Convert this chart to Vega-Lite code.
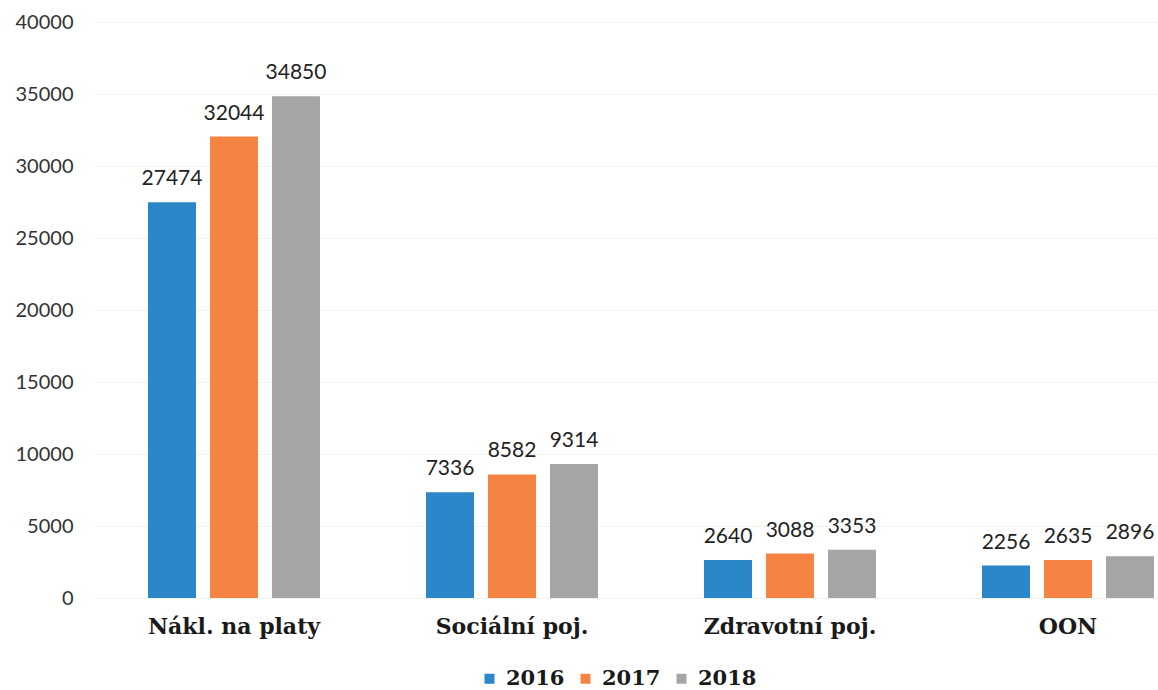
{
  "$schema": "https://vega.github.io/schema/vega-lite/v6.json",
  "autosize": {"type": "none"},
  "padding": {"left": 95, "top": 22, "right": 0, "bottom": 92},
  "width": 1063,
  "height": 576,
  "background": "white",
  "config": {"view": {"stroke": null}},
  "data": {"values": [
    {"cat": "Nákl. na platy", "year": "2016", "value": 27474},
    {"cat": "Nákl. na platy", "year": "2017", "value": 32044},
    {"cat": "Nákl. na platy", "year": "2018", "value": 34850},
    {"cat": "Sociální poj.", "year": "2016", "value": 7336},
    {"cat": "Sociální poj.", "year": "2017", "value": 8582},
    {"cat": "Sociální poj.", "year": "2018", "value": 9314},
    {"cat": "Zdravotní poj.", "year": "2016", "value": 2640},
    {"cat": "Zdravotní poj.", "year": "2017", "value": 3088},
    {"cat": "Zdravotní poj.", "year": "2018", "value": 3353},
    {"cat": "OON", "year": "2016", "value": 2256},
    {"cat": "OON", "year": "2017", "value": 2635},
    {"cat": "OON", "year": "2018", "value": 2896}
  ]},
  "encoding": {
    "x": {
      "field": "cat", "type": "nominal", "sort": null,
      "scale": {"range": [0, 1112], "paddingInner": 0, "paddingOuter": 0},
      "axis": {
        "title": null, "labelAngle": 0, "domain": false, "ticks": false,
        "labelFont": "DejaVu Serif", "labelFontWeight": "bold", "labelFontSize": 22,
        "labelColor": "#1a1a1a", "labelPadding": 18, "labelLimit": 300
      }
    },
    "xOffset": {
      "field": "year", "type": "nominal",
      "scale": {"paddingInner": 0.226, "paddingOuter": 0.855}
    },
    "y": {
      "field": "value", "type": "quantitative",
      "scale": {"domain": [0, 40000], "nice": false},
      "axis": {
        "title": null, "values": [0,5000,10000,15000,20000,25000,30000,35000,40000],
        "format": "d", "labelOverlap": false,
        "domain": false, "ticks": false, "grid": true, "gridColor": "#f2f2f2",
        "labelFont": "Lato", "labelFontSize": 20, "labelColor": "#333333", "labelPadding": 22
      }
    }
  },
  "layer": [
    {
      "mark": {"type": "bar"},
      "encoding": {
        "color": {
          "field": "year", "type": "nominal",
          "scale": {"domain": ["2016", "2017", "2018"], "range": ["#2b87c7", "#f58442", "#a5a5a3"]},
          "legend": {
            "title": null, "orient": "none", "direction": "horizontal",
            "legendX": 384, "legendY": 646,
            "symbolType": "square", "symbolSize": 100, "symbolStrokeWidth": 0,
            "labelFont": "DejaVu Serif", "labelFontWeight": "bold", "labelFontSize": 21,
            "labelColor": "#1a1a1a", "labelOffset": 6, "columnPadding": 10
          }
        }
      }
    },
    {
      "mark": {"type": "text", "baseline": "alphabetic", "dy": -17, "font": "Lato", "fontSize": 21, "color": "#222222"},
      "encoding": {"text": {"field": "value", "type": "quantitative", "format": "d"}}
    }
  ]
}
